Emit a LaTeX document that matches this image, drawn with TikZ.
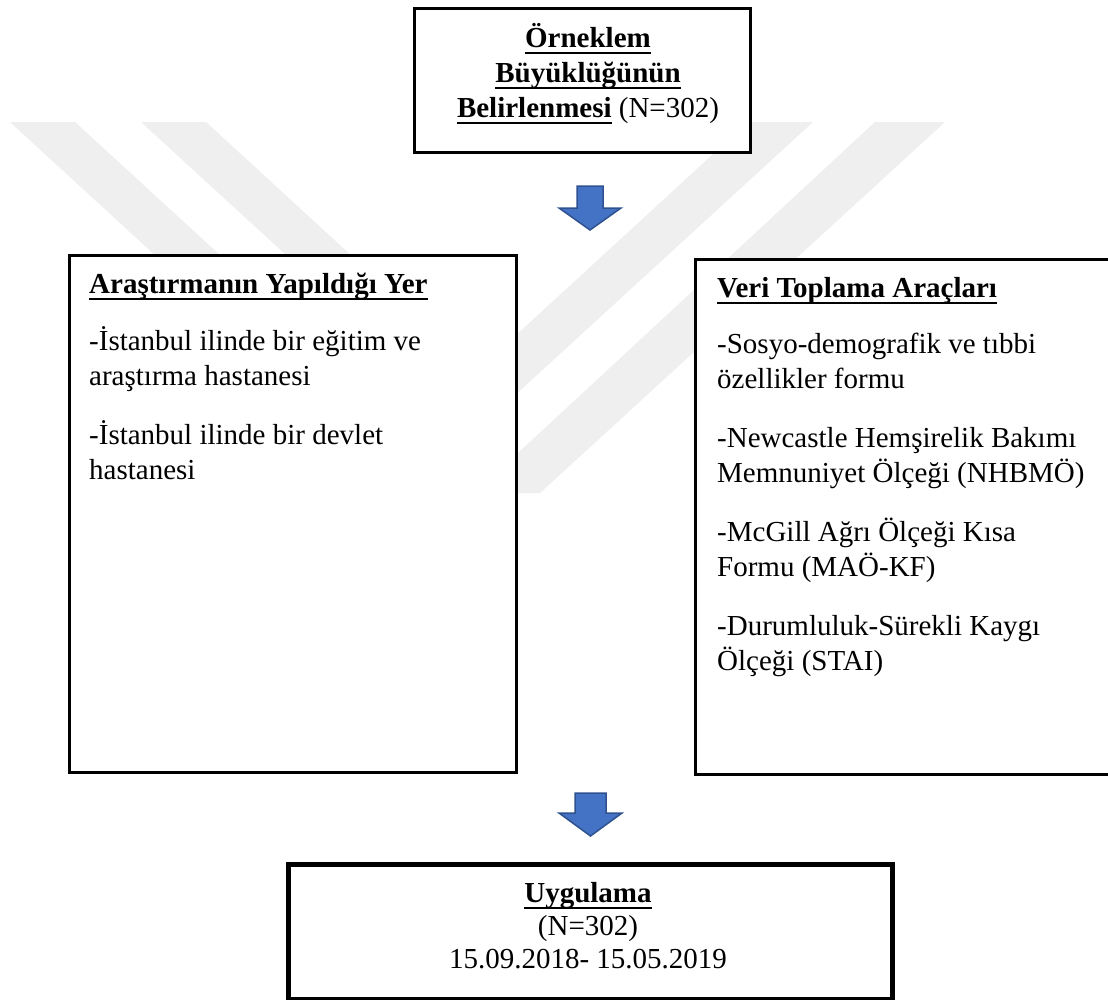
\documentclass[tikz,border=0pt]{standalone}
\usepackage{fontspec}
\setmainfont{Liberation Serif}
\definecolor{arrowblue}{HTML}{4472C4}
\definecolor{arrowedge}{HTML}{2F528F}
\definecolor{wmgray}{HTML}{EFEFEF}
\newcommand\myul[1]{\setbox0\hbox{#1}\rlap{\rule[-7pt]{\wd0}{2.5pt}}\box0\relax}
\begin{document}
\begin{tikzpicture}[x=1pt,y=-1pt,
  box/.style={draw=black, line width=3pt, fill=white, inner sep=0pt, anchor=north west},
  txt/.style={font=\fontsize{29}{35}\selectfont, inner sep=0pt, anchor=base west},
  ctxt/.style={font=\fontsize{29}{35}\selectfont, inner sep=0pt, anchor=base},
  wm/.style={fill=wmgray, draw=none},
  blockarrow/.style={fill=arrowblue, draw=arrowedge, line width=1.5pt, line join=miter}]
\useasboundingbox (0,0) rectangle (1108,999);
\clip (0,0) rectangle (1108,999);
\fill[white] (0,0) rectangle (1108,999);
% watermark
\fill[wm] (10,122) -- (75,122) -- (477,491) -- (875,122) -- (945,122) -- (540,493) -- (414,493) -- cycle;
\fill[wm] (141,122) -- (206,122) -- (477,371) -- (748,122) -- (813,122) -- (477,430) -- cycle;
% boxes
\node[box, minimum width=336pt, minimum height=144pt] (topbox) at (413,7) {};
\node[box, minimum width=447pt, minimum height=517pt] (leftbox) at (68,254) {};
\node[box, minimum width=425pt, minimum height=515pt] (rightbox) at (694,258) {};
\node[box, line width=5pt, minimum width=604pt, minimum height=135pt] (botbox) at (286,862) {};
% block arrows
\draw[blockarrow] (577,186) -- (603,186) -- (603,208) -- (621,208) -- (590,230) -- (559,208) -- (577,208) -- cycle;
\draw[blockarrow] (575,793) -- (606,793) -- (606,813) -- (622,813) -- (590.5,836) -- (559,813) -- (575,813) -- cycle;
% top box text
\node[ctxt] (t1) at (588,47) {\myul{\bfseries Örneklem}};
\node[ctxt] (t2) at (588,82) {\myul{\bfseries Büyüklüğünün}};
\node[ctxt] (t3) at (588,117) {\myul{\bfseries Belirlenmesi} (N=302)};
% left box text
\node[txt] (lh) at (89,293) {\myul{\bfseries Araştırmanın Yapıldığı Yer}};
\node[txt] (l1) at (89,350) {-İstanbul ilinde bir eğitim ve};
\node[txt] (l2) at (89,385) {araştırma hastanesi};
\node[txt] (l3) at (89,444) {-İstanbul ilinde bir devlet};
\node[txt] (l4) at (89,479) {hastanesi};
% right box text
\node[txt] (rh) at (717,297) {\myul{\bfseries Veri Toplama Araçları}};
\node[txt] (r1) at (717,353) {-Sosyo-demografik ve tıbbi};
\node[txt] (r2) at (717,388) {özellikler formu};
\node[txt] (r3) at (717,447) {-Newcastle Hemşirelik Bakımı};
\node[txt] (r4) at (717,482) {Memnuniyet Ölçeği (NHBMÖ)};
\node[txt] (r5) at (717,541) {-McGill Ağrı Ölçeği Kısa};
\node[txt] (r6) at (717,576) {Formu (MAÖ-KF)};
\node[txt] (r7) at (717,635) {-Durumluluk-Sürekli Kaygı};
\node[txt] (r8) at (717,670) {Ölçeği (STAI)};
% bottom box text
\node[ctxt] (b1) at (588,902) {\myul{\bfseries Uygulama}};
\node[ctxt] (b2) at (588,935) {(N=302)};
\node[ctxt] (b3) at (588,968) {15.09.2018- 15.05.2019};
\end{tikzpicture}
\end{document}
